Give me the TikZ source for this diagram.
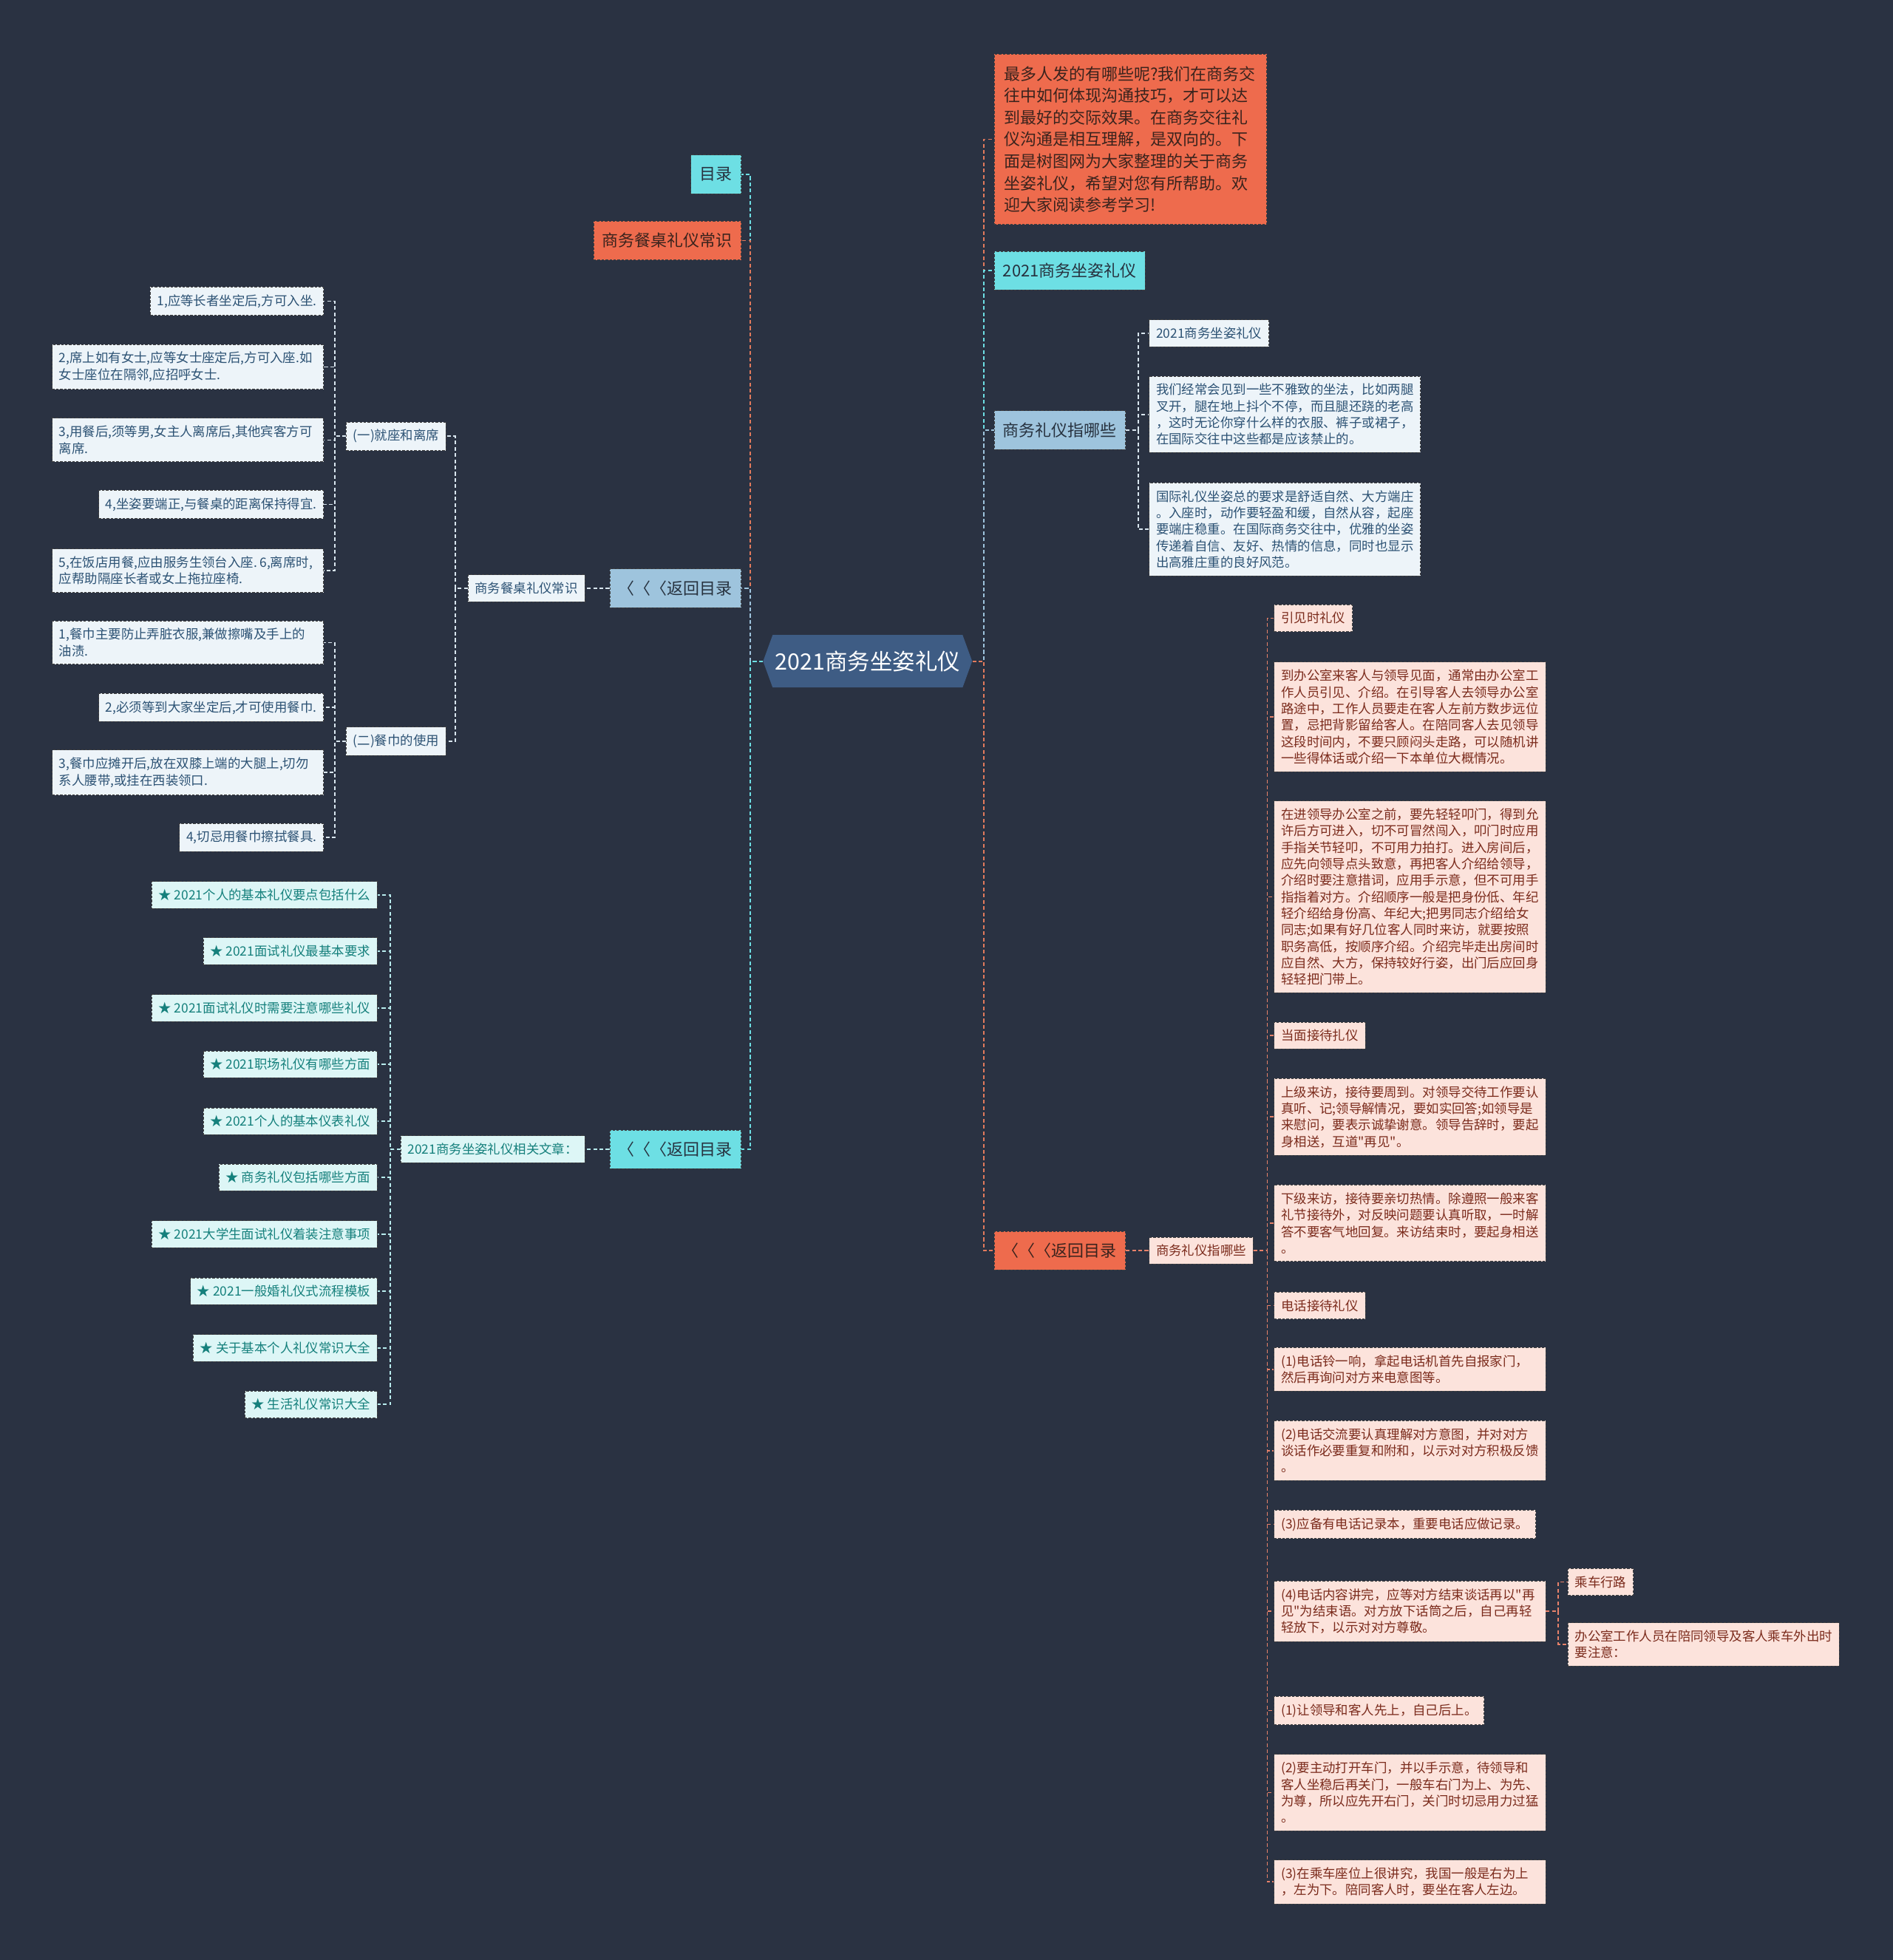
\documentclass[tikz,border=0pt]{standalone}
\usepackage{fontspec}
\setmainfont{Noto Sans CJK SC}[Ligatures=TeXOff]
\usetikzlibrary{shapes.symbols}
\definecolor{bg}{HTML}{2A3242}
\definecolor{cyanf}{HTML}{6DDFE4}
\definecolor{orangef}{HTML}{EE6B4D}
\definecolor{bluef}{HTML}{9EC4DD}
\definecolor{centerf}{HTML}{3E5C84}
\definecolor{whitef}{HTML}{EDF4F9}
\definecolor{pinkf}{HTML}{FCE3DC}
\definecolor{lcyanf}{HTML}{DDF6F6}
\definecolor{darktext}{HTML}{27323F}
\definecolor{browntext}{HTML}{3A231D}
\definecolor{bluetext}{HTML}{2C5274}
\definecolor{redtext}{HTML}{7B2B1C}
\definecolor{tealtext}{HTML}{15807C}
\definecolor{orangel}{HTML}{E27A5C}
\definecolor{salmonl}{HTML}{E8826A}
\definecolor{whitel}{HTML}{D9E6EF}
\definecolor{lcyanl}{HTML}{B8ECEE}
\tikzset{
  box/.style={rectangle, draw=black!75, dash pattern=on 2pt off 1.2pt, line width=0.5pt,
    inner xsep=5.5pt, inner ysep=6pt, align=left},
  big/.style={box, font=\fontsize{13}{17.5}\selectfont, minimum height=31pt, inner xsep=7pt, inner ysep=4pt},
  sm/.style={box, font=\fontsize{10.3}{13.2}\selectfont},
  wrap/.style={text width=206pt},
  cyanbox/.style={big, fill=cyanf, text=darktext},
  orangebox/.style={big, fill=orangef, text=browntext},
  bluebox/.style={big, fill=bluef, text=darktext},
  whitebox/.style={sm, fill=whitef, text=bluetext},
  pinkbox/.style={sm, fill=pinkf, text=redtext},
  lcyanbox/.style={sm, fill=lcyanf, text=tealtext},
  conn/.style={line width=1pt, dash pattern=on 3pt off 2pt},
  cyanconn/.style={conn, draw=cyanf},
  orangeconn/.style={conn, draw=orangel},
  blueconn/.style={conn, draw=bluef},
  whiteconn/.style={conn, draw=whitel},
  lcyanconn/.style={conn, draw=lcyanl},
  salmonconn/.style={conn, draw=salmonl},
}
\begin{document}
\begin{tikzpicture}[x=1pt, y=-1pt]
\fill[bg] (0,0) rectangle (1514,1568);
\useasboundingbox (0,0) rectangle (1514,1568);

% root
\node[signal, signal to=east and west, signal pointer angle=140, fill=centerf, text=white,
  font=\fontsize{18}{20}\selectfont, minimum width=156pt, minimum height=42pt,
  inner xsep=2pt, inner ysep=0pt] (root) at (694,529) {2021商务坐姿礼仪};

% left level 1
\node[cyanbox, anchor=east] (mulu) at (593,139.5) {目录};
\node[orangebox, anchor=east] (canzhuo) at (593,192.5) {商务餐桌礼仪常识};
\node[bluebox, anchor=east] (back1) at (593,470.5) {〈〈〈返回目录};
\node[cyanbox, anchor=east] (back2) at (593,919.5) {〈〈〈返回目录};

% left subtree 1
\node[whitebox, anchor=east] (sub1) at (468,470.5) {商务餐桌礼仪常识};
\node[whitebox, anchor=east] (g1) at (357,349) {(一)就座和离席};
\node[whitebox, anchor=east] (g2) at (357,593) {(二)餐巾的使用};
\node[whitebox, anchor=east] (a1) at (259,241) {1,应等长者坐定后,方可入坐.};
\node[whitebox, wrap, anchor=east] (a2) at (259,293.5) {2,席上如有女士,应等女士座定后,方可入座.如\\女士座位在隔邻,应招呼女士.};
\node[whitebox, wrap, anchor=east] (a3) at (259,352) {3,用餐后,须等男,女主人离席后,其他宾客方可\\离席.};
\node[whitebox, anchor=east] (a4) at (259,403.5) {4,坐姿要端正,与餐桌的距离保持得宜.};
\node[whitebox, wrap, anchor=east] (a5) at (259,456.5) {5,在饭店用餐,应由服务生领台入座.\hspace{0.2em}6,离席时,\\应帮助隔座长者或女上拖拉座椅.};
\node[whitebox, wrap, anchor=east] (b1) at (259,514) {1,餐巾主要防止弄脏衣服,兼做擦嘴及手上的\\油渍.};
\node[whitebox, anchor=east] (b2) at (259,566) {2,必须等到大家坐定后,才可使用餐巾.};
\node[whitebox, wrap, anchor=east] (b3) at (259,618) {3,餐巾应摊开后,放在双膝上端的大腿上,切勿\\系人腰带,或挂在西装领口.};
\node[whitebox, anchor=east] (b4) at (259,670) {4,切忌用餐巾擦拭餐具.};

% left subtree 2
\node[lcyanbox, anchor=east] (sub2) at (468,919.5) {2021商务坐姿礼仪相关文章：};
\node[lcyanbox, anchor=east] (s1) at (302,716) {★ 2021个人的基本礼仪要点包括什么};
\node[lcyanbox, anchor=east] (s2) at (302,761) {★ 2021面试礼仪最基本要求};
\node[lcyanbox, anchor=east] (s3) at (302,806.5) {★ 2021面试礼仪时需要注意哪些礼仪};
\node[lcyanbox, anchor=east] (s4) at (302,851.5) {★ 2021职场礼仪有哪些方面};
\node[lcyanbox, anchor=east] (s5) at (302,897) {★ 2021个人的基本仪表礼仪};
\node[lcyanbox, anchor=east] (s6) at (302,942) {★ 商务礼仪包括哪些方面};
\node[lcyanbox, anchor=east] (s7) at (302,987.5) {★ 2021大学生面试礼仪着装注意事项};
\node[lcyanbox, anchor=east] (s8) at (302,1033) {★ 2021一般婚礼仪式流程模板};
\node[lcyanbox, anchor=east] (s9) at (302,1078.5) {★ 关于基本个人礼仪常识大全};
\node[lcyanbox, anchor=east] (s10) at (302,1123.5) {★ 生活礼仪常识大全};

% right level 1
\node[orangebox, text width=202pt, inner xsep=8pt, inner ysep=9.5pt, text=browntext, anchor=west] (intro) at (795,111.5)
 {最多人发的有哪些呢?我们在商务交\\往中如何体现沟通技巧，才可以达\\到最好的交际效果。在商务交往礼\\仪沟通是相互理解，是双向的。下\\面是树图网为大家整理的关于商务\\坐姿礼仪，希望对您有所帮助。欢\\迎大家阅读参考学习!};
\node[cyanbox, anchor=west] (r2021) at (795,216.5) {2021商务坐姿礼仪};
\node[bluebox, anchor=west] (rzhi) at (795,344) {商务礼仪指哪些};
\node[orangebox, anchor=west] (back3) at (795,1000.5) {〈〈〈返回目录};

% right subtree (blue)
\node[whitebox, anchor=west] (c1) at (919,266.5) {2021商务坐姿礼仪};
\node[whitebox, wrap, anchor=west] (c2) at (919,331.5) {我们经常会见到一些不雅致的坐法，比如两腿\\叉开，腿在地上抖个不停，而且腿还跷的老高\\，这时无论你穿什么样的衣服、裤子或裙子，\\在国际交往中这些都是应该禁止的。};
\node[whitebox, wrap, anchor=west] (c3) at (919,423.5) {国际礼仪坐姿总的要求是舒适自然、大方端庄\\。入座时，动作要轻盈和缓，自然从容，起座\\要端庄稳重。在国际商务交往中，优雅的坐姿\\传递着自信、友好、热情的信息，同时也显示\\出高雅庄重的良好风范。};

% right subtree (pink)
\node[pinkbox, anchor=west] (sub3) at (919,1000.5) {商务礼仪指哪些};
\node[pinkbox, anchor=west] (p1) at (1019,494.5) {引见时礼仪};
\node[pinkbox, wrap, anchor=west] (p2) at (1019,573.5) {到办公室来客人与领导见面，通常由办公室工\\作人员引见、介绍。在引导客人去领导办公室\\路途中，工作人员要走在客人左前方数步远位\\置，忌把背影留给客人。在陪同客人去见领导\\这段时间内，不要只顾闷头走路，可以随机讲\\一些得体话或介绍一下本单位大概情况。};
\node[pinkbox, wrap, anchor=west] (p3) at (1019,717.5) {在进领导办公室之前，要先轻轻叩门，得到允\\许后方可进入，切不可冒然闯入，叩门时应用\\手指关节轻叩，不可用力拍打。进入房间后，\\应先向领导点头致意，再把客人介绍给领导，\\介绍时要注意措词，应用手示意，但不可用手\\指指着对方。介绍顺序一般是把身份低、年纪\\轻介绍给身份高、年纪大;把男同志介绍给女\\同志;如果有好几位客人同时来访，就要按照\\职务高低，按顺序介绍。介绍完毕走出房间时\\应自然、大方，保持较好行姿，出门后应回身\\轻轻把门带上。};
\node[pinkbox, anchor=west] (p4) at (1019,828.5) {当面接待扎仪};
\node[pinkbox, wrap, anchor=west] (p5) at (1019,893.5) {上级来访，接待要周到。对领导交待工作要认\\真听、记;领导解情况，要如实回答;如领导是\\来慰问，要表示诚挚谢意。领导告辞时，要起\\身相送，互道"再见"。};
\node[pinkbox, wrap, anchor=west] (p6) at (1019,978.5) {下级来访，接待要亲切热情。除遵照一般来客\\礼节接待外，对反映问题要认真听取，一时解\\答不要客气地回复。来访结束时，要起身相送\\。};
\node[pinkbox, anchor=west] (p7) at (1019,1044.5) {电话接待礼仪};
\node[pinkbox, wrap, anchor=west] (p8) at (1019,1095.5) {(1)电话铃一响，拿起电话机首先自报家门，\\然后再询问对方来电意图等。};
\node[pinkbox, wrap, anchor=west] (p9) at (1019,1160.5) {(2)电话交流要认真理解对方意图，并对对方\\谈话作必要重复和附和，以示对对方积极反馈\\。};
\node[pinkbox, anchor=west] (p10) at (1019,1219.5) {(3)应备有电话记录本，重要电话应做记录。};
\node[pinkbox, wrap, anchor=west] (p11) at (1019,1289) {(4)电话内容讲完，应等对方结束谈话再以"再\\见"为结束语。对方放下话筒之后，自己再轻\\轻放下，以示对对方尊敬。};
\node[pinkbox, anchor=west] (q1) at (1254,1265.5) {乘车行路};
\node[pinkbox, wrap, anchor=west] (q2) at (1254,1315.5) {办公室工作人员在陪同领导及客人乘车外出时\\要注意：};
\node[pinkbox, anchor=west] (p12) at (1019,1368.5) {(1)让领导和客人先上，自己后上。};
\node[pinkbox, wrap, anchor=west] (p13) at (1019,1434) {(2)要主动打开车门，并以手示意，待领导和\\客人坐稳后再关门，一般车右门为上、为先、\\为尊，所以应先开右门，关门时切忌用力过猛\\。};
\node[pinkbox, wrap, anchor=west] (p14) at (1019,1505.5) {(3)在乘车座位上很讲究，我国一般是右为上\\，左为下。陪同客人时，要坐在客人左边。};

% main connectors left
\draw[cyanconn] (root.west) -- ++(-10,0) |- (mulu.east);
\draw[orangeconn] (root.west) -- ++(-10,0) |- (canzhuo.east);
\draw[blueconn] (root.west) -- ++(-10,0) |- (back1.east);
\draw[cyanconn] (root.west) -- ++(-10,0) |- (back2.east);
% main connectors right
\draw[orangeconn] (root.east) -- ++(9,0) |- (intro.west);
\draw[cyanconn] (root.east) -- ++(9,0) |- (r2021.west);
\draw[blueconn] (root.east) -- ++(9,0) |- (rzhi.west);
\draw[orangeconn] (root.east) -- ++(9,0) |- (back3.west);

% left subtree 1 connectors
\draw[whiteconn] (back1.west) -- (sub1.east);
\foreach \g in {g1,g2} \draw[whiteconn] (sub1.west) -- ++(-10,0) |- (\g.east);
\foreach \a in {a1,a2,a3,a4,a5} \draw[whiteconn] (g1.west) -- ++(-9,0) |- (\a.east);
\foreach \b in {b1,b2,b3,b4} \draw[whiteconn] (g2.west) -- ++(-9,0) |- (\b.east);

% left subtree 2 connectors
\draw[lcyanconn] (back2.west) -- (sub2.east);
\foreach \s in {s1,s2,s3,s4,s5,s6,s7,s8,s9,s10} \draw[lcyanconn] (sub2.west) -- ++(-8,0) |- (\s.east);

% right subtree connectors
\foreach \c in {c1,c2,c3} \draw[whiteconn] (rzhi.east) -- ++(10,0) |- (\c.west);
\draw[salmonconn] (back3.east) -- (sub3.west);
\foreach \p in {p1,p2,p3,p4,p5,p6,p7,p8,p9,p10,p11,p12,p13,p14} \draw[salmonconn] (sub3.east) -- ++(11,0) |- (\p.west);
\foreach \q in {q1,q2} \draw[salmonconn] (p11.east) -- ++(10,0) |- (\q.west);
\end{tikzpicture}
\end{document}
